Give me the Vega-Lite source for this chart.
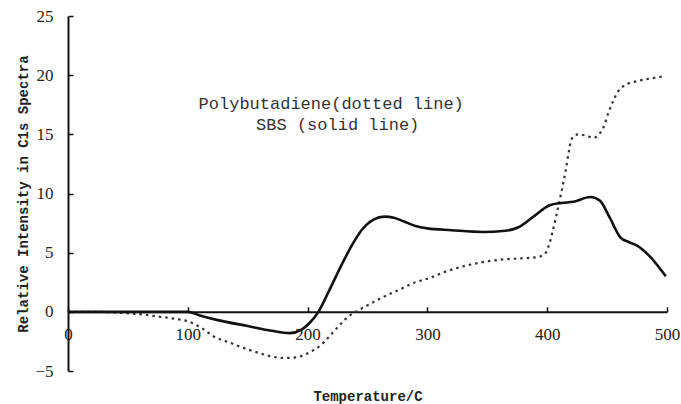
{
  "$schema": "https://vega.github.io/schema/vega-lite/v6.json",
  "width": 599,
  "height": 355,
  "autosize": {"type": "none"},
  "padding": {"left": 68, "top": 16, "right": 14, "bottom": 33},
  "background": "white",
  "config": {"view": {"stroke": null}},
  "datasets": {
    "sbs": [
      {"T": 0, "V": 0}, {"T": 50, "V": 0}, {"T": 100, "V": 0}, {"T": 110, "V": -0.3},
      {"T": 125, "V": -0.7}, {"T": 150, "V": -1.2}, {"T": 170, "V": -1.6}, {"T": 185, "V": -1.8},
      {"T": 195, "V": -1.5}, {"T": 202, "V": -0.9}, {"T": 209, "V": 0}, {"T": 218, "V": 1.8},
      {"T": 229, "V": 4.1}, {"T": 238, "V": 5.8}, {"T": 245, "V": 6.9}, {"T": 255, "V": 7.8},
      {"T": 264, "V": 8.05}, {"T": 272, "V": 7.95}, {"T": 280, "V": 7.65}, {"T": 290, "V": 7.25},
      {"T": 300, "V": 7.05}, {"T": 320, "V": 6.9}, {"T": 346, "V": 6.75}, {"T": 365, "V": 6.85},
      {"T": 376, "V": 7.15}, {"T": 388, "V": 8.0}, {"T": 402, "V": 9.0}, {"T": 412, "V": 9.2},
      {"T": 422, "V": 9.3}, {"T": 436, "V": 9.7}, {"T": 444, "V": 9.4}, {"T": 452, "V": 8.0},
      {"T": 461, "V": 6.3}, {"T": 468, "V": 5.9}, {"T": 475, "V": 5.6}, {"T": 486, "V": 4.65},
      {"T": 499, "V": 3.0}
    ],
    "pb": [
      {"T": 0, "V": 0}, {"T": 25, "V": 0}, {"T": 46, "V": -0.1}, {"T": 60, "V": -0.2},
      {"T": 75, "V": -0.4}, {"T": 90, "V": -0.6}, {"T": 100, "V": -0.8}, {"T": 112, "V": -1.4},
      {"T": 122, "V": -2.1}, {"T": 135, "V": -2.6}, {"T": 145, "V": -3.0}, {"T": 157, "V": -3.4},
      {"T": 167, "V": -3.7}, {"T": 180, "V": -3.9}, {"T": 190, "V": -3.85}, {"T": 201, "V": -3.45},
      {"T": 210, "V": -2.9}, {"T": 218, "V": -2.1}, {"T": 226, "V": -1.2}, {"T": 234, "V": -0.4},
      {"T": 243, "V": 0.17}, {"T": 250, "V": 0.55}, {"T": 262, "V": 1.2}, {"T": 275, "V": 1.8},
      {"T": 290, "V": 2.5}, {"T": 300, "V": 2.8}, {"T": 318, "V": 3.5}, {"T": 332, "V": 3.9},
      {"T": 346, "V": 4.2}, {"T": 360, "V": 4.4}, {"T": 374, "V": 4.5}, {"T": 390, "V": 4.6},
      {"T": 397, "V": 4.8}, {"T": 402, "V": 5.8}, {"T": 405, "V": 7.0}, {"T": 408, "V": 8.3},
      {"T": 412, "V": 10.2}, {"T": 415, "V": 11.7}, {"T": 418, "V": 13.5}, {"T": 420, "V": 14.5},
      {"T": 423, "V": 14.9}, {"T": 426, "V": 15.0}, {"T": 432, "V": 14.9}, {"T": 439, "V": 14.7},
      {"T": 443, "V": 15.0}, {"T": 447, "V": 15.6}, {"T": 451, "V": 16.8}, {"T": 455, "V": 17.8},
      {"T": 459, "V": 18.6}, {"T": 464, "V": 19.1}, {"T": 475, "V": 19.5}, {"T": 485, "V": 19.7},
      {"T": 497, "V": 19.9}
    ],
    "notes": [
      {"T": 109, "V": 17.6, "label": "Polybutadiene(dotted line)"},
      {"T": 157, "V": 15.8, "label": "SBS (solid line)"}
    ]
  },
  "layer": [
    {
      "data": {"name": "pb"},
      "mark": {"type": "line", "interpolate": "monotone", "color": "#333", "strokeWidth": 2.2, "strokeDash": [2.5, 4]},
      "encoding": {
        "x": {
          "field": "T", "type": "quantitative",
          "scale": {"domain": [0, 500], "nice": false, "zero": false},
          "axis": {
            "values": [0, 100, 200, 300, 400, 500],
            "offset": -59.2,
            "grid": false,
            "domainColor": "#111", "domainWidth": 2,
            "tickColor": "#111", "tickWidth": 1.5, "tickSize": -5,
            "labelFont": "Liberation Serif", "labelFontSize": 17, "labelColor": "#222",
            "labelPadding": 20, "labelBaseline": "top", "labelFlush": false,
            "title": "Temperature/C",
            "titleFont": "Liberation Mono", "titleFontSize": 14, "titleFontWeight": "bold", "titleColor": "#222",
            "titleY": 78, "titleBaseline": "top"
          }
        },
        "y": {
          "field": "V", "type": "quantitative",
          "scale": {"domain": [-5, 25], "nice": false, "zero": false},
          "axis": {
            "values": [-5, 0, 5, 10, 15, 20, 25],
            "grid": false,
            "domainColor": "#111", "domainWidth": 2,
            "tickColor": "#111", "tickWidth": 1.5, "tickSize": -5,
            "labelFont": "Liberation Serif", "labelFontSize": 17, "labelColor": "#222",
            "labelPadding": 20,
            "title": "Relative Intensity in C1s Spectra",
            "titleFont": "Liberation Mono", "titleFontSize": 14, "titleFontWeight": "bold", "titleColor": "#222",
            "titleX": -45, "titleY": 177.5, "titleBaseline": "middle", "titleAngle": -90
          }
        }
      }
    },
    {
      "data": {"name": "sbs"},
      "mark": {"type": "line", "interpolate": "monotone", "color": "#111", "strokeWidth": 2.6},
      "encoding": {
        "x": {"field": "T", "type": "quantitative"},
        "y": {"field": "V", "type": "quantitative"}
      }
    },
    {
      "data": {"name": "notes"},
      "mark": {"type": "text", "align": "left", "baseline": "middle", "font": "Liberation Mono", "fontSize": 17, "color": "#333"},
      "encoding": {
        "x": {"field": "T", "type": "quantitative"},
        "y": {"field": "V", "type": "quantitative"},
        "text": {"field": "label"}
      }
    }
  ]
}
